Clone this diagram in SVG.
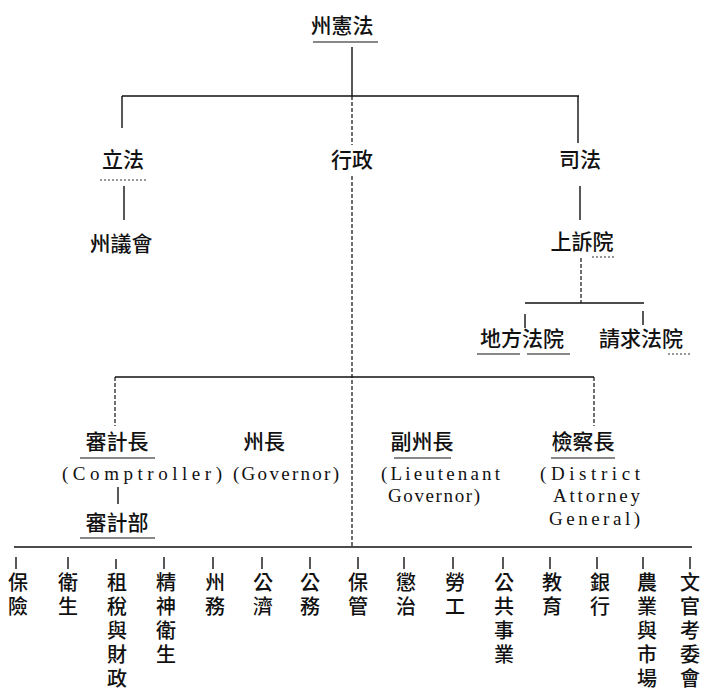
<svg xmlns="http://www.w3.org/2000/svg" width="704" height="691" viewBox="0 0 704 691">
<style>
.c{font-family:"Noto Sans CJK TC","Noto Sans CJK JP",sans-serif;font-size:21px;font-weight:500;fill:#111;text-anchor:middle}
.v{font-family:"Noto Sans CJK TC","Noto Sans CJK JP",sans-serif;font-size:20px;font-weight:500;fill:#111;writing-mode:tb;glyph-orientation-vertical:0}
.e{font-family:"Liberation Serif",serif;font-size:19px;fill:#111}
.ln{stroke:#111;stroke-width:1.4;fill:none}
.dl{stroke:#111;stroke-width:1.2;fill:none;stroke-dasharray:4 2}
.ul{stroke:#111;stroke-width:1.2;fill:none}
.du{stroke:#333;stroke-width:1;fill:none;stroke-dasharray:2 2}
</style>
<rect width="704" height="691" fill="#fff"/>
<g id="connectors">
<line class="ln" x1="352" y1="47" x2="352" y2="96"/>
<line class="ln" x1="122" y1="96" x2="579" y2="96"/>
<line class="ln" x1="122" y1="96" x2="122" y2="128"/>
<line class="ln" x1="578" y1="96" x2="578" y2="143"/>
<line class="dl" x1="352" y1="96" x2="352" y2="145"/>
<line class="ln" x1="124" y1="186" x2="124" y2="220"/>
<line class="ln" x1="580" y1="186" x2="580" y2="220"/>
<line class="dl" x1="581" y1="258" x2="581" y2="303"/>
<line class="ln" x1="525" y1="303" x2="644" y2="303"/>
<line class="ln" x1="525" y1="314" x2="525" y2="328"/>
<line class="ln" x1="643" y1="311" x2="643" y2="325"/>
<line class="dl" x1="352" y1="176" x2="352" y2="547"/>
<line class="ln" x1="115" y1="377" x2="594" y2="377"/>
<line class="dl" x1="115" y1="377" x2="115" y2="426"/>
<line class="dl" x1="594" y1="377" x2="594" y2="426"/>
<line class="ln" x1="118" y1="487" x2="118" y2="504"/>
<line class="ln" x1="14" y1="547" x2="692" y2="547"/>
<g class="ln">
<line x1="16" y1="557" x2="16" y2="569"/>
<line x1="68" y1="557" x2="68" y2="569"/>
<line x1="116" y1="559" x2="116" y2="569"/>
<line x1="164" y1="557" x2="164" y2="569"/>
<line x1="213" y1="557" x2="213" y2="569"/>
<line x1="262" y1="557" x2="262" y2="569"/>
<line x1="310" y1="557" x2="310" y2="569"/>
<line x1="358" y1="557" x2="358" y2="569"/>
<line x1="404" y1="557" x2="404" y2="569"/>
<line x1="453" y1="557" x2="453" y2="569"/>
<line x1="503" y1="557" x2="503" y2="569"/>
<line x1="550" y1="557" x2="550" y2="569"/>
<line x1="597" y1="557" x2="597" y2="569"/>
<line x1="643" y1="557" x2="643" y2="569"/>
<line x1="690" y1="557" x2="690" y2="569"/>
</g>
</g>
<g id="n-constitution"><text class="c" x="342" y="33">州憲法</text><line class="ul" x1="313" y1="42" x2="378" y2="42"/></g>
<g id="n-legislative"><text class="c" x="123" y="167">立法</text><line class="du" x1="100" y1="180" x2="148" y2="180"/></g>
<g id="n-executive"><text class="c" x="352" y="167">行政</text></g>
<g id="n-judicial"><text class="c" x="580" y="167">司法</text></g>
<g id="n-legislature"><text class="c" x="121" y="251">州議會</text></g>
<g id="n-appeals"><text class="c" x="582" y="249">上訴院</text><line class="du" x1="592" y1="257" x2="614" y2="257"/></g>
<g id="n-district-court"><text class="c" x="522" y="346">地方法院</text><line class="ul" x1="477" y1="354" x2="520" y2="354"/><line class="ul" x1="527" y1="354" x2="570" y2="354"/></g>
<g id="n-claims-court"><text class="c" x="641" y="346">請求法院</text><line class="du" x1="668" y1="354" x2="690" y2="354"/></g>
<g id="n-comptroller"><text class="c" x="117" y="449">審計長</text><line class="ul" x1="80" y1="458" x2="155" y2="458"/><text class="e" x="62" y="480" textLength="160" lengthAdjust="spacing">(Comptroller)</text></g>
<g id="n-audit"><text class="c" x="117" y="530">審計部</text><line class="ul" x1="80" y1="538" x2="155" y2="538"/></g>
<g id="n-governor"><text class="c" x="264" y="449">州長</text><text class="e" x="233" y="480" textLength="106" lengthAdjust="spacing">(Governor)</text></g>
<g id="n-lt-governor"><text class="c" x="422" y="449">副州長</text><line class="ul" x1="394" y1="458" x2="451" y2="458"/><text class="e" x="381" y="480" textLength="119" lengthAdjust="spacing">(Lieutenant</text><text class="e" x="388" y="502" textLength="92" lengthAdjust="spacing">Governor)</text></g>
<g id="n-attorney"><text class="c" x="583" y="449">檢察長</text><line class="ul" x1="551" y1="458" x2="615" y2="458"/><text class="e" x="540" y="480" textLength="100" lengthAdjust="spacing">(District</text><text class="e" x="553" y="502" textLength="87" lengthAdjust="spacing">Attorney</text><text class="e" x="549" y="525" textLength="91" lengthAdjust="spacing">General)</text></g>
<g id="depts">
<g id="d1"><text class="v" x="18" y="572">保</text><text class="v" x="18" y="596">險</text></g>
<g id="d2"><text class="v" x="68" y="572">衛</text><text class="v" x="68" y="596">生</text></g>
<g id="d3"><text class="v" x="117" y="572">租</text><text class="v" x="117" y="596">稅</text><text class="v" x="117" y="620">與</text><text class="v" x="117" y="644">財</text><text class="v" x="117" y="668">政</text></g>
<g id="d4"><text class="v" x="166" y="572">精</text><text class="v" x="166" y="596">神</text><text class="v" x="166" y="620">衛</text><text class="v" x="166" y="644">生</text></g>
<g id="d5"><text class="v" x="215" y="572">州</text><text class="v" x="215" y="596">務</text></g>
<g id="d6"><text class="v" x="263" y="572">公</text><text class="v" x="263" y="596">濟</text></g>
<g id="d7"><text class="v" x="310" y="572">公</text><text class="v" x="310" y="596">務</text></g>
<g id="d8"><text class="v" x="358" y="572">保</text><text class="v" x="358" y="596">管</text></g>
<g id="d9"><text class="v" x="406" y="572">懲</text><text class="v" x="406" y="596">治</text></g>
<g id="d10"><text class="v" x="455" y="572">勞</text><text class="v" x="455" y="596">工</text></g>
<g id="d11"><text class="v" x="504" y="572">公</text><text class="v" x="504" y="596">共</text><text class="v" x="504" y="620">事</text><text class="v" x="504" y="644">業</text></g>
<g id="d12"><text class="v" x="552" y="572">教</text><text class="v" x="552" y="596">育</text></g>
<g id="d13"><text class="v" x="600" y="572">銀</text><text class="v" x="600" y="596">行</text></g>
<g id="d14"><text class="v" x="647" y="572">農</text><text class="v" x="647" y="596">業</text><text class="v" x="647" y="620">與</text><text class="v" x="647" y="644">市</text><text class="v" x="647" y="668">場</text></g>
<g id="d15"><text class="v" x="690" y="572">文</text><text class="v" x="690" y="596">官</text><text class="v" x="690" y="620">考</text><text class="v" x="690" y="644">委</text><text class="v" x="690" y="668">會</text></g>
</g>
</svg>
